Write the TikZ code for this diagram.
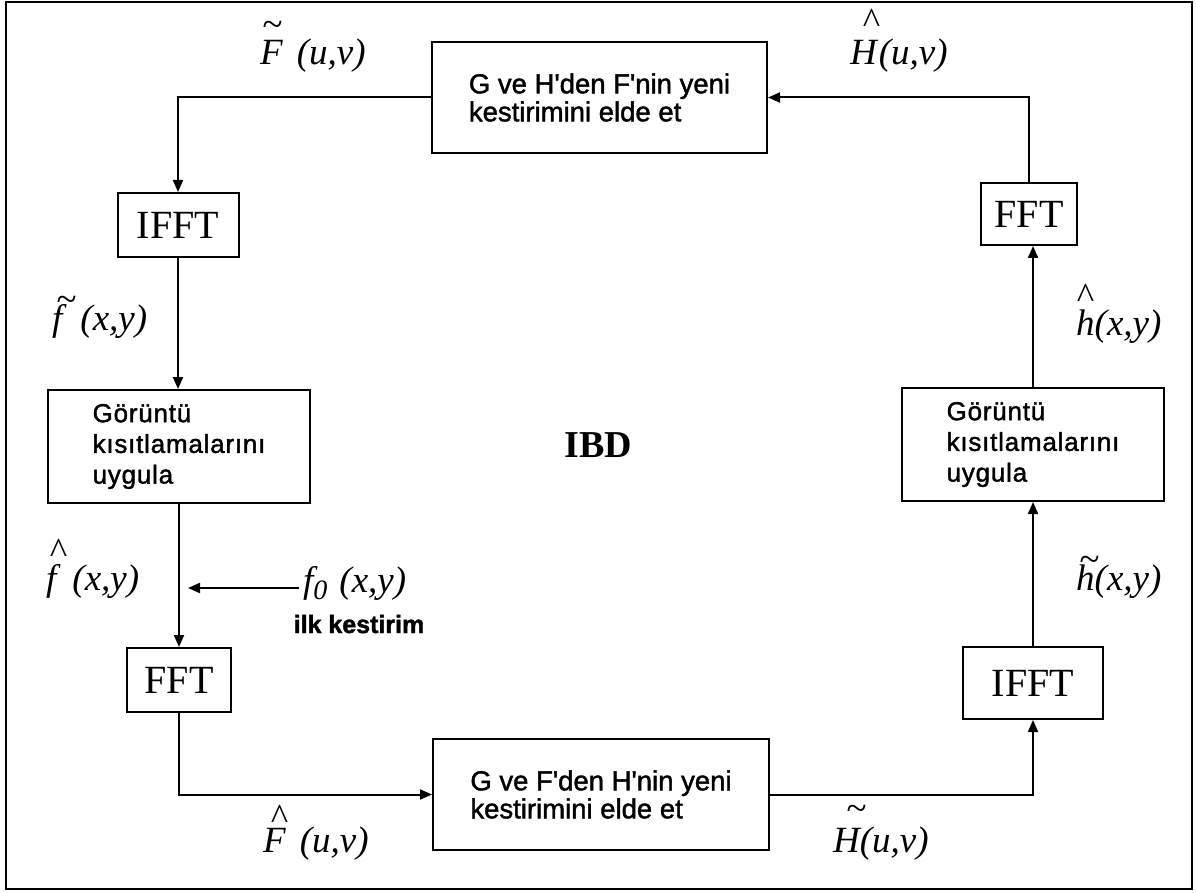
\documentclass[tikz,border=0pt]{standalone}
\usepackage{fontspec}
\setmainfont{Liberation Serif}
\setsansfont{Liberation Sans}
\newfontfamily\boxfont{Liberation Sans}[FakeBold=1.5]
\newfontfamily\wideboxfont{Liberation Sans}[LetterSpace=3,FakeBold=1.5]
\usetikzlibrary{arrows.meta}

% accent mark (tilde, hat) set above the following letter
\newcommand\overmark[3]{\makebox[0pt][l]{\raisebox{#1}{\hspace*{#2}#3}}}

\tikzset{
  wire/.style={line width=2pt},
  flow/.style={wire, -{Triangle[length=12pt,width=10pt]}},
  block/.style={draw, line width=2pt, inner sep=0pt, align=center},
  stagetext/.style={font=\boxfont\fontsize{27.5}{28}\selectfont, align=left},
  limittext/.style={font=\wideboxfont\fontsize{26}{30.7}\selectfont, align=left},
  transform/.style={font=\fontsize{40}{40}\selectfont},
  lab/.style={font=\itshape\fontsize{37}{37}\selectfont, anchor=base west, inner sep=0pt},
}

\begin{document}
\begin{tikzpicture}[x=1pt,y=-1pt]
\useasboundingbox (0,0) rectangle (1196,893);
\draw[line width=2.5pt] (6,2) rectangle (1192,889);

% processing blocks
\node[block, stagetext, minimum width=335pt, minimum height=111pt] (T) at (599.5,97.5)
  {G ve H'den F'nin yeni\\kestirimini elde et};
\node[block, stagetext, minimum width=336pt, minimum height=111pt] (B) at (601,794.5)
  {G ve F'den H'nin yeni\\kestirimini elde et};
\node[block, transform, minimum width=121pt, minimum height=64pt] (I1) at (178,225) {IFFT};
\node[block, limittext, minimum width=262pt, minimum height=113pt] (G1) at (179,446.5)
  {Görüntü\\kısıtlamalarını\\uygula};
\node[block, transform, minimum width=104pt, minimum height=64pt] (F1) at (179,680) {FFT};
\node[block, transform, minimum width=96pt, minimum height=62pt] (F2) at (1029,214) {FFT};
\node[block, limittext, minimum width=262pt, minimum height=113pt] (G2) at (1033,444.5)
  {Görüntü\\kısıtlamalarını\\uygula};
\node[block, transform, minimum width=140pt, minimum height=72pt] (I2) at (1033,683) {IFFT};

\node[font=\bfseries\fontsize{38}{38}\selectfont, anchor=base, inner sep=0pt] (ibd) at (598.5,457) {IBD};

% signal labels
\node[lab] (Ftil) at (260,65) {\overmark{28pt}{2pt}{\textasciitilde}F\hspace{14pt}(u,v)};
\node[lab] (Hhat) at (850,65) {\overmark{31pt}{12pt}{\textasciicircum}H\hspace{2pt}(u,v)};
\node[lab] (ftil) at (52,330) {\overmark{19pt}{4pt}{\textasciitilde}f\hspace{18pt}(x,y)};
\node[lab] (fhat) at (46,590) {\overmark{27pt}{3pt}{\textasciicircum}f\hspace{16pt}(x,y)};
\node[lab] (f0) at (303,592) {f\raisebox{-7pt}{\fontsize{28}{28}\selectfont 0}\hspace{12pt}(x,y)};
\node[font=\boxfont\bfseries\fontsize{25}{25}\selectfont, anchor=base, inner sep=0pt] (ilk) at (359,633) {ilk kestirim};
\node[lab] (Fhat) at (263,852) {\overmark{23pt}{7pt}{\textasciicircum}F\hspace{14pt}(u,v)};
\node[lab] (Htil) at (833,852) {\overmark{32pt}{13pt}{\textasciitilde}H(u,v)};
\node[lab] (hhat) at (1076,335) {\overmark{27pt}{0pt}{\textasciicircum}h(x,y)};
\node[lab] (htil) at (1076,590) {\overmark{19pt}{3pt}{\textasciitilde}h(x,y)};

\coordinate (f0tip) at (188,588);

% connectors
\draw[flow] (T.west) -| (I1.north);
\draw[flow] (I1.south) -- (I1.south |- G1.north);
\draw[flow] (G1.south) -- (F1.north);
\draw[flow] ([shift={(-4pt,4pt)}]f0.base west) -- (f0tip);
\draw[flow] (F1.south) |- (B.west);
\draw[flow] (B.east) -| (I2.south);
\draw[flow] (I2.north) -- (G2.south);
\draw[flow] (G2.north) -- (G2.north |- F2.south);
\draw[flow] (F2.north) |- (T.east);
\end{tikzpicture}
\end{document}
